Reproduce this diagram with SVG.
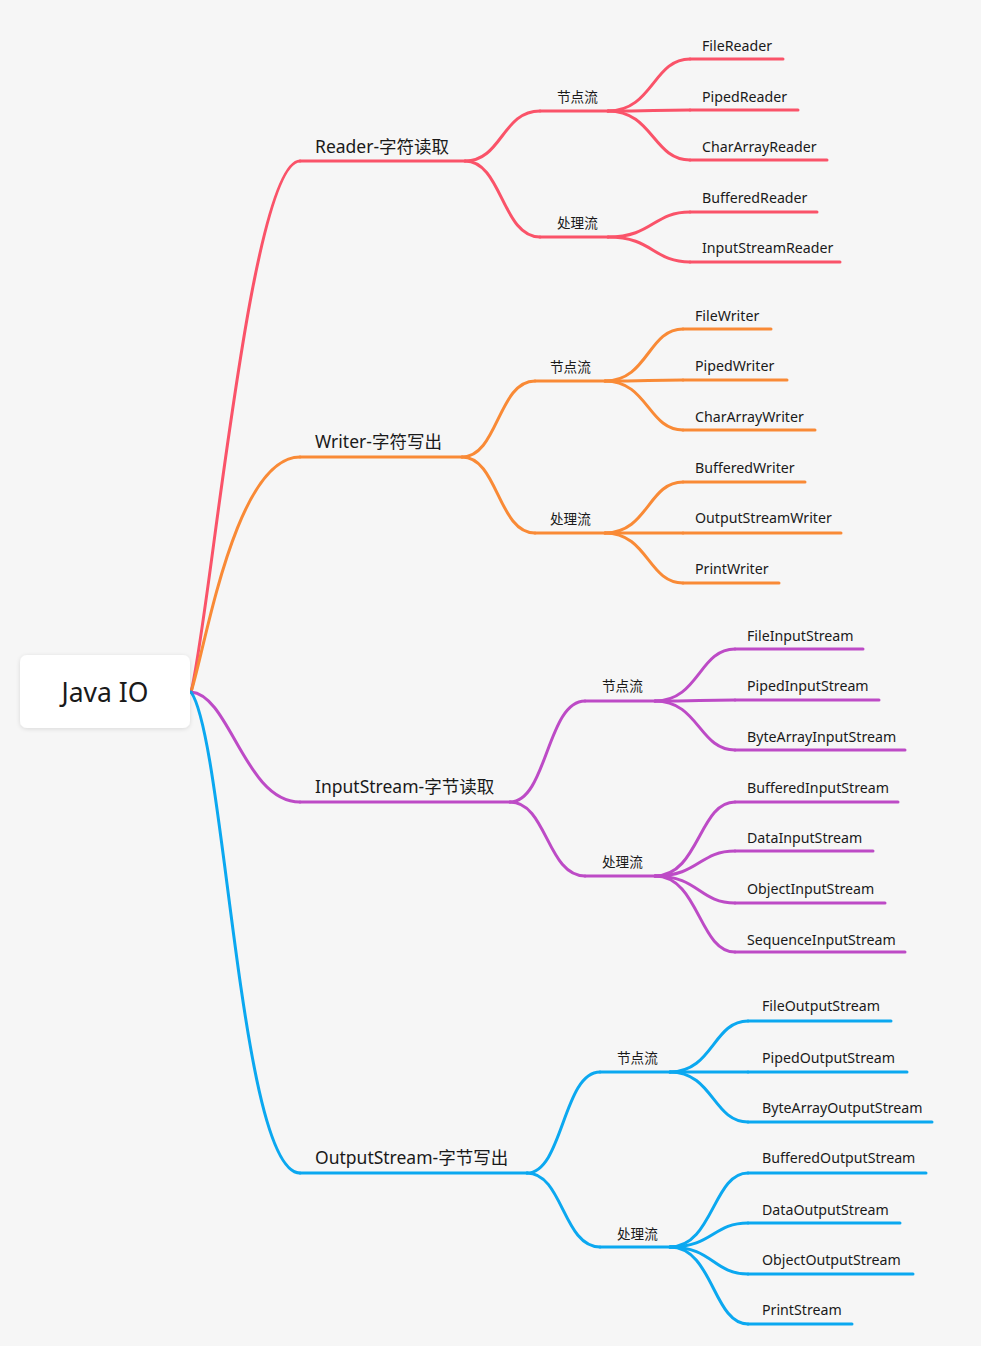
<svg xmlns="http://www.w3.org/2000/svg" width="981" height="1346" viewBox="0 0 981 1346">
<defs>
<filter id="sh" x="-20%" y="-30%" width="140%" height="160%">
<feDropShadow dx="0" dy="1" stdDeviation="2" flood-color="#000" flood-opacity="0.12"/>
</filter>
</defs>
<style>
text{font-family:"Noto Sans","Noto Sans CJK SC",sans-serif;fill:#1a1a1a}
.c{font-size:14.2px}
.s{font-size:13.6px}
.b{font-size:17.5px}
path,line{fill:none;stroke-width:3;stroke-linecap:round}
.r{stroke:#FA5369}
.o{stroke:#F98A36}
.p{stroke:#BD4BC6}
.u{stroke:#0BA8F0}
</style>
<rect width="981" height="1346" fill="#F6F6F6"/>
<g id="connectors">
<path class="r" d="M191,692 C210,620 250,161 300,161"/>
<path class="o" d="M191,692 C205,650 235,457 300,457"/>
<path class="p" d="M191,692 C230,695 245,802 300,802"/>
<path class="u" d="M191,692 C225,740 240,1173 300,1173"/>
<path class="r" d="M465,161 C502,161 502,111 540,111"/>
<path class="r" d="M465,161 C502,161 502,237 540,237"/>
<path class="o" d="M462,457 C498,457 498,381 535,381"/>
<path class="o" d="M462,457 C498,457 498,533 535,533"/>
<path class="p" d="M510,802 C547,802 547,701 585,701"/>
<path class="p" d="M510,802 C547,802 547,876 585,876"/>
<path class="u" d="M527,1173 C563,1173 563,1072 600,1072"/>
<path class="u" d="M527,1173 C563,1173 563,1247 600,1247"/>
<path class="r" d="M608,111 C653,111 653,59 690,59"/>
<path class="r" d="M608,111 C653,111 653,110 690,110"/>
<path class="r" d="M608,111 C653,111 653,160 690,160"/>
<path class="r" d="M608,237 C653,237 653,212 690,212"/>
<path class="r" d="M608,237 C653,237 653,262 690,262"/>
<path class="o" d="M605,381 C648,381 648,329 683,329"/>
<path class="o" d="M605,381 C648,381 648,380 683,380"/>
<path class="o" d="M605,381 C648,381 648,430 683,430"/>
<path class="o" d="M605,533 C648,533 648,482 683,482"/>
<path class="o" d="M605,533 C648,533 648,533 683,533"/>
<path class="o" d="M605,533 C648,533 648,583 683,583"/>
<path class="p" d="M655,701 C699,701 699,649 735,649"/>
<path class="p" d="M655,701 C699,701 699,700 735,700"/>
<path class="p" d="M655,701 C699,701 699,750 735,750"/>
<path class="p" d="M655,876 C699,876 699,802 735,802"/>
<path class="p" d="M655,876 C699,876 699,851 735,851"/>
<path class="p" d="M655,876 C699,876 699,903 735,903"/>
<path class="p" d="M655,876 C699,876 699,952 735,952"/>
<path class="u" d="M670,1072 C713,1072 713,1021 748,1021"/>
<path class="u" d="M670,1072 C713,1072 713,1072 748,1072"/>
<path class="u" d="M670,1072 C713,1072 713,1122 748,1122"/>
<path class="u" d="M670,1247 C713,1247 713,1173 748,1173"/>
<path class="u" d="M670,1247 C713,1247 713,1223 748,1223"/>
<path class="u" d="M670,1247 C713,1247 713,1274 748,1274"/>
<path class="u" d="M670,1247 C713,1247 713,1324 748,1324"/>
</g>
<g id="root">
<rect x="20" y="655" width="170" height="73" rx="7" fill="#fff" filter="url(#sh)"/>
<text x="105" y="702" font-size="26.5" text-anchor="middle">Java IO</text>
</g>
<g id="reader"><line class="r" x1="300" y1="161" x2="465" y2="161"/><text class="b" x="315" y="153">Reader-字符读取</text></g>
<g id="reader-node"><line class="r" x1="540" y1="111" x2="608" y2="111"/><text class="s" x="557" y="102">节点流</text></g>
<g id="reader-proc"><line class="r" x1="540" y1="237" x2="608" y2="237"/><text class="s" x="557" y="228">处理流</text></g>
<g id="FileReader"><line class="r" x1="690" y1="59" x2="783" y2="59"/><text class="c" x="702" y="51">FileReader</text></g>
<g id="PipedReader"><line class="r" x1="690" y1="110" x2="798" y2="110"/><text class="c" x="702" y="102">PipedReader</text></g>
<g id="CharArrayReader"><line class="r" x1="690" y1="160" x2="827" y2="160"/><text class="c" x="702" y="152">CharArrayReader</text></g>
<g id="BufferedReader"><line class="r" x1="690" y1="212" x2="817" y2="212"/><text class="c" x="702" y="203">BufferedReader</text></g>
<g id="InputStreamReader"><line class="r" x1="690" y1="262" x2="840" y2="262"/><text class="c" x="702" y="253">InputStreamReader</text></g>
<g id="writer"><line class="o" x1="300" y1="457" x2="462" y2="457"/><text class="b" x="315" y="448">Writer-字符写出</text></g>
<g id="writer-node"><line class="o" x1="535" y1="381" x2="605" y2="381"/><text class="s" x="550" y="372">节点流</text></g>
<g id="writer-proc"><line class="o" x1="535" y1="533" x2="605" y2="533"/><text class="s" x="550" y="524">处理流</text></g>
<g id="FileWriter"><line class="o" x1="683" y1="329" x2="771" y2="329"/><text class="c" x="695" y="321">FileWriter</text></g>
<g id="PipedWriter"><line class="o" x1="683" y1="380" x2="787" y2="380"/><text class="c" x="695" y="371">PipedWriter</text></g>
<g id="CharArrayWriter"><line class="o" x1="683" y1="430" x2="815" y2="430"/><text class="c" x="695" y="422">CharArrayWriter</text></g>
<g id="BufferedWriter"><line class="o" x1="683" y1="482" x2="805" y2="482"/><text class="c" x="695" y="473">BufferedWriter</text></g>
<g id="OutputStreamWriter"><line class="o" x1="683" y1="533" x2="841" y2="533"/><text class="c" x="695" y="523">OutputStreamWriter</text></g>
<g id="PrintWriter"><line class="o" x1="683" y1="583" x2="779" y2="583"/><text class="c" x="695" y="574">PrintWriter</text></g>
<g id="inputstream"><line class="p" x1="300" y1="802" x2="510" y2="802"/><text class="b" x="315" y="793">InputStream-字节读取</text></g>
<g id="input-node"><line class="p" x1="585" y1="701" x2="655" y2="701"/><text class="s" x="602" y="691">节点流</text></g>
<g id="input-proc"><line class="p" x1="585" y1="876" x2="655" y2="876"/><text class="s" x="602" y="867">处理流</text></g>
<g id="FileInputStream"><line class="p" x1="735" y1="649" x2="863" y2="649"/><text class="c" x="747" y="641">FileInputStream</text></g>
<g id="PipedInputStream"><line class="p" x1="735" y1="700" x2="879" y2="700"/><text class="c" x="747" y="691">PipedInputStream</text></g>
<g id="ByteArrayInputStream"><line class="p" x1="735" y1="750" x2="905" y2="750"/><text class="c" x="747" y="742">ByteArrayInputStream</text></g>
<g id="BufferedInputStream"><line class="p" x1="735" y1="802" x2="898" y2="802"/><text class="c" x="747" y="793">BufferedInputStream</text></g>
<g id="DataInputStream"><line class="p" x1="735" y1="851" x2="873" y2="851"/><text class="c" x="747" y="843">DataInputStream</text></g>
<g id="ObjectInputStream"><line class="p" x1="735" y1="903" x2="885" y2="903"/><text class="c" x="747" y="894">ObjectInputStream</text></g>
<g id="SequenceInputStream"><line class="p" x1="735" y1="952" x2="905" y2="952"/><text class="c" x="747" y="945">SequenceInputStream</text></g>
<g id="outputstream"><line class="u" x1="300" y1="1173" x2="527" y2="1173"/><text class="b" x="315" y="1164">OutputStream-字节写出</text></g>
<g id="output-node"><line class="u" x1="600" y1="1072" x2="670" y2="1072"/><text class="s" x="617" y="1063">节点流</text></g>
<g id="output-proc"><line class="u" x1="600" y1="1247" x2="670" y2="1247"/><text class="s" x="617" y="1239">处理流</text></g>
<g id="FileOutputStream"><line class="u" x1="748" y1="1021" x2="891" y2="1021"/><text class="c" x="762" y="1011">FileOutputStream</text></g>
<g id="PipedOutputStream"><line class="u" x1="748" y1="1072" x2="907" y2="1072"/><text class="c" x="762" y="1063">PipedOutputStream</text></g>
<g id="ByteArrayOutputStream"><line class="u" x1="748" y1="1122" x2="932" y2="1122"/><text class="c" x="762" y="1113">ByteArrayOutputStream</text></g>
<g id="BufferedOutputStream"><line class="u" x1="748" y1="1173" x2="926" y2="1173"/><text class="c" x="762" y="1163">BufferedOutputStream</text></g>
<g id="DataOutputStream"><line class="u" x1="748" y1="1223" x2="900" y2="1223"/><text class="c" x="762" y="1215">DataOutputStream</text></g>
<g id="ObjectOutputStream"><line class="u" x1="748" y1="1274" x2="913" y2="1274"/><text class="c" x="762" y="1265">ObjectOutputStream</text></g>
<g id="PrintStream"><line class="u" x1="748" y1="1324" x2="852" y2="1324"/><text class="c" x="762" y="1315">PrintStream</text></g>
</svg>
